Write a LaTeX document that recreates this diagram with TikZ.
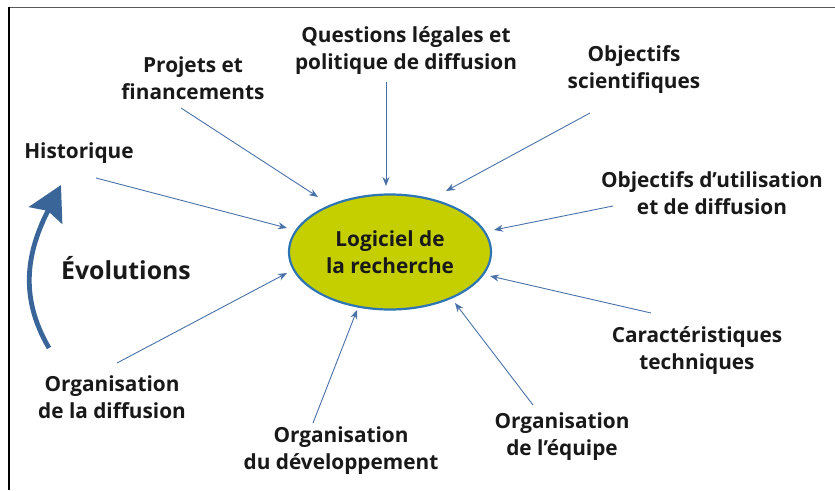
\documentclass[tikz,border=0pt]{standalone}
\usepackage{fontspec}
\setmainfont{Open Sans}
\usetikzlibrary{shapes.geometric,arrows.meta}
\definecolor{lineblue}{HTML}{4A72A8}
\definecolor{bigblue}{HTML}{3A6598}
\definecolor{ellfill}{HTML}{C5CF00}
\definecolor{ellline}{HTML}{2E75B6}
\tikzset{
  lbl/.style={font=\bfseries\fontsize{20.8}{27}\selectfont, align=center, text=black!90, inner sep=0pt},
  conn/.style={draw=lineblue, line width=0.9pt, -{Stealth[length=9pt,width=7pt]}},
}
\begin{document}
\begin{tikzpicture}[x=1pt,y=-1pt]
\useasboundingbox (0,0) rectangle (835,490);
\draw[gray!70!black, line width=1.2pt] (9,7.5) -- (835,7.5);
\draw[black, line width=1.5pt] (9,7) -- (9,490);

\node[ellipse, draw=ellline, line width=2.2pt, fill=ellfill, minimum width=202pt, minimum height=115pt, inner sep=0pt] (ell) at (390,252) {};
\node[lbl] (elltxt) at (390,252) {Logiciel de\\la recherche};

\node[lbl] (quest) at (406,51) {Questions légales et\\politique de diffusion};
\node[lbl] (proj) at (193,78) {Projets et\\financements};
\node[lbl] (objs) at (634,70) {Objectifs\\scientifiques};
\node[lbl] (hist) at (79,153) {Historique};
\node[lbl] (obju) at (712,193) {Objectifs d’utilisation\\et de diffusion};
\node[lbl] (cara) at (697,351) {Caractéristiques\\techniques};
\node[lbl] (orge) at (562,437) {Organisation\\de l’équipe};
\node[lbl] (orgd) at (341,451) {Organisation\\du développement};
\node[lbl] (orgf) at (112,397) {Organisation\\de la diffusion};
\node[lbl, font=\bfseries\fontsize{24.8}{28}\selectfont] (evol) at (126,268) {Évolutions};

\coordinate (s1) at (386,82);  \coordinate (e1) at (386,186);
\coordinate (s2) at (181,108); \coordinate (e2) at (318,197);
\coordinate (s3) at (590,113); \coordinate (e3) at (446,191);
\coordinate (s4) at (96,178);  \coordinate (e4) at (287,228);
\coordinate (s5) at (613,206); \coordinate (e5) at (494,230);
\coordinate (s6) at (651,313); \coordinate (e6) at (490,276);
\coordinate (s7) at (533,405); \coordinate (e7) at (455,303);
\coordinate (s8) at (313,423); \coordinate (e8) at (357,310);
\coordinate (s9) at (117,363); \coordinate (e9) at (287,273);
\foreach \i in {1,...,9} \draw[conn] (s\i) -- (e\i);

\coordinate (cvs) at (49,348);
\coordinate (cve) at (61,185);
\draw[bigblue, line width=4.8pt, -{Stealth[length=34pt,width=37pt,inset=5pt]}] (cvs) .. controls (18,295) and (28,250) .. (cve);
\end{tikzpicture}
\end{document}
